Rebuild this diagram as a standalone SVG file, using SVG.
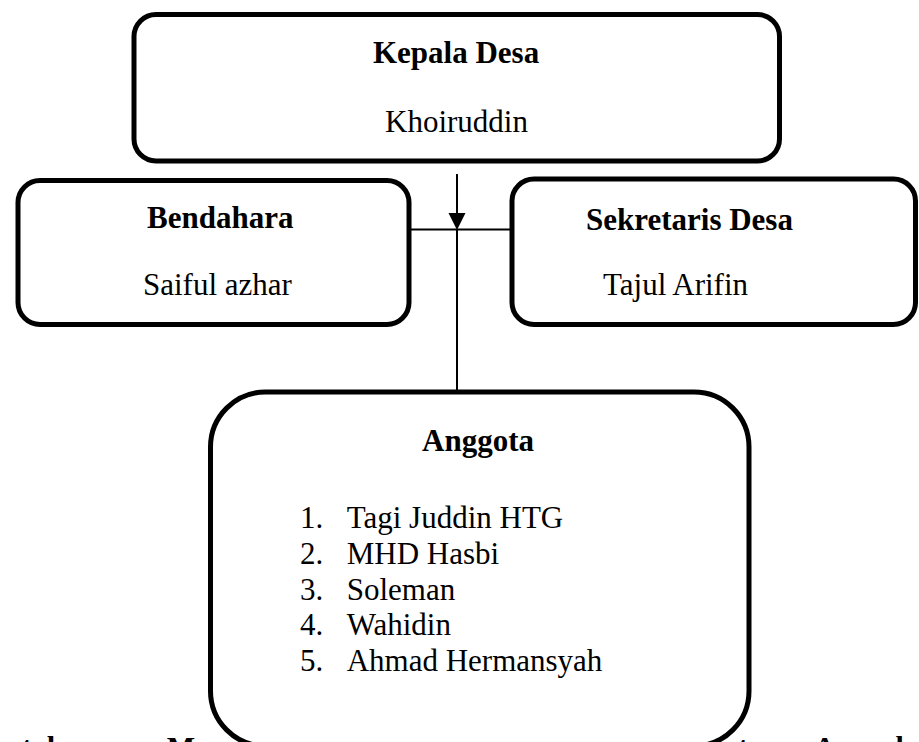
<svg xmlns="http://www.w3.org/2000/svg" width="919" height="742" viewBox="0 0 919 742">
<style>
.box{fill:#fff;stroke:#000;stroke-width:5}
.t{font-family:"Liberation Serif","Times New Roman",serif;font-size:31px;fill:#000}
.b{font-weight:bold}
.ln{stroke:#000;stroke-width:2;fill:none}
.frag{font-family:"Liberation Serif","Times New Roman",serif;font-size:30px;font-weight:bold;fill:#000}
</style>
<rect width="919" height="742" fill="#fff"/>
<g id="fragments">
<text class="frag" x="5" y="757">ntakan ruas M</text>
<text class="frag" x="738" y="757">taran Anacal</text>
</g>
<g id="connectors">
<line class="ln" x1="457" y1="174" x2="457" y2="215"/>
<polygon points="448.5,213 465.5,213 457,230" fill="#000"/>
<line class="ln" x1="411" y1="229.5" x2="510" y2="229.5"/>
<line class="ln" x1="457" y1="229" x2="457" y2="392"/>
</g>
<g id="kepala-desa">
<rect class="box" x="134" y="14.5" width="645.5" height="146.5" rx="22"/>
<text class="t b" x="373" y="63">Kepala Desa</text>
<text class="t" x="385" y="132">Khoiruddin</text>
</g>
<g id="bendahara">
<rect class="box" x="18" y="180.5" width="391" height="144" rx="22"/>
<text class="t b" x="147" y="228">Bendahara</text>
<text class="t" x="143" y="295">Saiful azhar</text>
</g>
<g id="sekretaris-desa">
<rect class="box" x="512" y="179" width="403.5" height="145.5" rx="22"/>
<text class="t b" x="586" y="230">Sekretaris Desa</text>
<text class="t" x="603" y="295">Tajul Arifin</text>
</g>
<g id="anggota">
<rect class="box" x="210.5" y="392" width="538.5" height="354" rx="55"/>
<text class="t b" x="422" y="451">Anggota</text>
<text class="t" x="300" y="528">1.</text><text class="t" x="346.7" y="528">Tagi Juddin HTG</text>
<text class="t" x="300" y="563.8">2.</text><text class="t" x="346.7" y="563.8">MHD Hasbi</text>
<text class="t" x="300" y="599.6">3.</text><text class="t" x="346.7" y="599.6">Soleman</text>
<text class="t" x="300" y="635.4">4.</text><text class="t" x="346.7" y="635.4">Wahidin</text>
<text class="t" x="300" y="671.2">5.</text><text class="t" x="346.7" y="671.2">Ahmad Hermansyah</text>
</g>
</svg>
